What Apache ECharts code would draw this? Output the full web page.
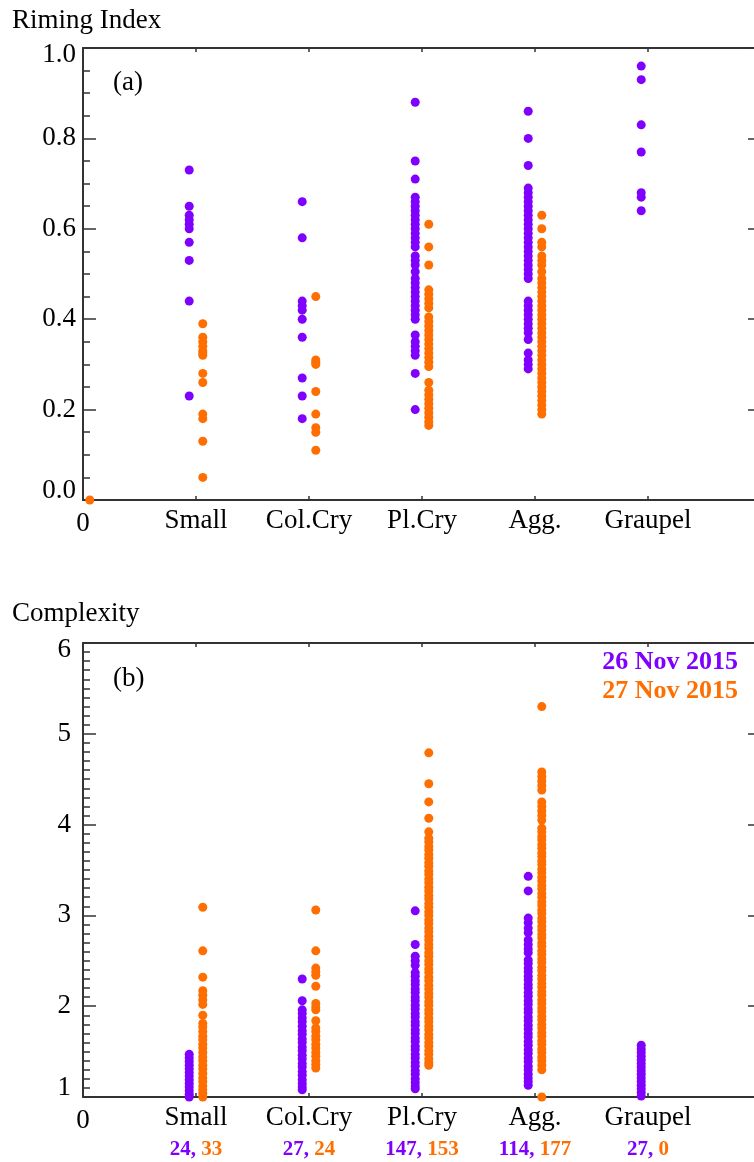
<!DOCTYPE html>
<html>
<head>
<meta charset="utf-8">
<script src="https://cdn.jsdelivr.net/npm/echarts@6/dist/echarts.min.js"></script>
<style>
html,body{margin:0;padding:0;background:#fff;overflow:hidden;}
#c{width:780px;height:1162px;}
</style>
</head>
<body>
<div id="c"></div>
<script>
// ---------- data ----------
const categories = ['Small', 'Col.Cry', 'Pl.Cry', 'Agg.', 'Graupel'];
const countsPurple = [24, 27, 147, 114, 27];
const countsOrange = [33, 24, 153, 177, 0];
const legendLabels = ['26 Nov 2015', '27 Nov 2015'];

// Panel (a) Riming Index, per category (Small, Col.Cry, Pl.Cry, Agg., Graupel)
const rimPurple = [
  [0.73, 0.65, 0.63, 0.62, 0.61, 0.60, 0.57, 0.53, 0.44, 0.23],
  [0.66, 0.58, 0.44, 0.43, 0.42, 0.40, 0.36, 0.27, 0.23, 0.18],
  [0.88, 0.75, 0.71, 0.67, 0.66, 0.65, 0.64, 0.63, 0.62, 0.61, 0.60, 0.59, 0.58, 0.57, 0.56, 0.54, 0.53, 0.52, 0.505, 0.49, 0.48, 0.47, 0.46, 0.45, 0.44, 0.43, 0.42, 0.41, 0.40, 0.365, 0.35, 0.34, 0.33, 0.32, 0.28, 0.20],
  [0.86, 0.80, 0.74, 0.69, 0.68, 0.67, 0.66, 0.65, 0.64, 0.63, 0.62, 0.61, 0.60, 0.59, 0.58, 0.57, 0.56, 0.55, 0.54, 0.53, 0.52, 0.51, 0.50, 0.49, 0.44, 0.43, 0.42, 0.41, 0.40, 0.39, 0.38, 0.37, 0.355, 0.325, 0.31, 0.30, 0.29],
  [0.96, 0.93, 0.83, 0.77, 0.68, 0.67, 0.64]
];
const rimOrange = [
  [0.39, 0.36, 0.35, 0.34, 0.33, 0.325, 0.32, 0.28, 0.26, 0.19, 0.18, 0.13, 0.05],
  [0.45, 0.31, 0.305, 0.30, 0.24, 0.19, 0.16, 0.15, 0.11],
  [0.61, 0.56, 0.52, 0.465, 0.455, 0.445, 0.435, 0.425, 0.405, 0.395, 0.385, 0.375, 0.365, 0.355, 0.345, 0.335, 0.325, 0.315, 0.305, 0.295, 0.26, 0.243, 0.233, 0.223, 0.213, 0.203, 0.193, 0.183, 0.173, 0.165],
  [0.63, 0.60, 0.57, 0.56, 0.54, 0.53, 0.52, 0.505, 0.49, 0.48, 0.47, 0.46, 0.45, 0.44, 0.43, 0.42, 0.41, 0.40, 0.39, 0.38, 0.37, 0.36, 0.35, 0.34, 0.33, 0.32, 0.31, 0.30, 0.29, 0.28, 0.27, 0.26, 0.25, 0.24, 0.23, 0.22, 0.21, 0.20, 0.19],
  []
];
const rimOrangeAtZero = [0.0];

// Panel (b) Complexity
const cpxPurple = [
  [1.47, 1.43, 1.39, 1.35, 1.31, 1.27, 1.23, 1.19, 1.15, 1.11, 1.07, 1.03, 1.00],
  [2.30, 2.06, 1.96, 1.92, 1.87, 1.83, 1.78, 1.73, 1.69, 1.64, 1.60, 1.55, 1.51, 1.46, 1.42, 1.37, 1.33, 1.28, 1.24, 1.19, 1.15, 1.11, 1.08],
  [3.05, 2.68, 2.55, 2.50, 2.45, 2.37, 2.33, 2.28, 2.24, 2.19, 2.15, 2.10, 2.06, 2.01, 1.97, 1.92, 1.88, 1.83, 1.79, 1.74, 1.70, 1.65, 1.61, 1.56, 1.52, 1.47, 1.43, 1.38, 1.34, 1.29, 1.25, 1.20, 1.16, 1.12, 1.09],
  [3.43, 3.27, 2.97, 2.92, 2.86, 2.81, 2.73, 2.68, 2.63, 2.59, 2.51, 2.47, 2.42, 2.38, 2.33, 2.29, 2.24, 2.20, 2.15, 2.11, 2.06, 2.02, 1.97, 1.93, 1.88, 1.84, 1.79, 1.75, 1.70, 1.66, 1.61, 1.57, 1.52, 1.48, 1.43, 1.39, 1.34, 1.30, 1.25, 1.21, 1.17, 1.13],
  [1.57, 1.53, 1.49, 1.45, 1.41, 1.37, 1.33, 1.29, 1.25, 1.21, 1.17, 1.13, 1.09, 1.05, 1.01]
];
const cpxOrange = [
  [3.09, 2.61, 2.32, 2.17, 2.12, 2.07, 2.02, 1.90, 1.81, 1.77, 1.72, 1.67, 1.63, 1.58, 1.54, 1.49, 1.44, 1.40, 1.35, 1.31, 1.26, 1.21, 1.17, 1.12, 1.08, 1.04, 1.00],
  [3.06, 2.61, 2.42, 2.38, 2.34, 2.22, 2.03, 1.99, 1.96, 1.84, 1.76, 1.72, 1.67, 1.63, 1.58, 1.54, 1.49, 1.45, 1.40, 1.36, 1.32],
  [4.79, 4.45, 4.25, 4.07, 3.92, 3.85, 3.81, 3.76, 3.72, 3.67, 3.63, 3.58, 3.54, 3.49, 3.45, 3.40, 3.36, 3.31, 3.27, 3.22, 3.18, 3.13, 3.09, 3.04, 3.00, 2.95, 2.91, 2.86, 2.82, 2.77, 2.73, 2.68, 2.64, 2.59, 2.55, 2.50, 2.46, 2.41, 2.37, 2.32, 2.28, 2.23, 2.19, 2.14, 2.10, 2.05, 2.01, 1.96, 1.92, 1.87, 1.83, 1.78, 1.74, 1.69, 1.65, 1.60, 1.56, 1.51, 1.47, 1.42, 1.38, 1.35],
  [5.30, 4.58, 4.53, 4.48, 4.43, 4.38, 4.25, 4.20, 4.15, 4.10, 4.05, 3.96, 3.92, 3.87, 3.83, 3.78, 3.74, 3.69, 3.65, 3.60, 3.56, 3.51, 3.47, 3.42, 3.38, 3.33, 3.29, 3.24, 3.20, 3.15, 3.11, 3.06, 3.02, 2.97, 2.93, 2.88, 2.84, 2.79, 2.75, 2.70, 2.66, 2.61, 2.57, 2.52, 2.48, 2.43, 2.39, 2.34, 2.30, 2.25, 2.21, 2.16, 2.12, 2.07, 2.03, 1.98, 1.94, 1.89, 1.85, 1.80, 1.76, 1.71, 1.67, 1.62, 1.58, 1.53, 1.49, 1.44, 1.40, 1.35, 1.30, 1.00],
  []
];

// ---------- style ----------
const PURPLE = '#7f00ff';
const ORANGE = '#ff6e00';
const FONT = 'Liberation Serif';
const FS = 27;
const AXC = '#333333';
const OFFSET = 0.06;

function toPoints(lists, off) {
  const pts = [];
  lists.forEach((vals, i) => vals.forEach(v => pts.push([i + 1 + off, v])));
  return pts;
}

const lineStyle = { color: AXC, width: 2 };
const tickStyle = { color: AXC, width: 1.5 };

function xAxes(gi, withCounts) {
  const rich = {
    c: { fontFamily: FONT, fontSize: FS, color: '#000', lineHeight: 30 },
    z: { fontFamily: FONT, fontSize: FS, color: '#000', lineHeight: 30, padding: [5, 0, 0, 0] },
    p: { fontFamily: FONT, fontSize: 21, fontWeight: 'bold', color: PURPLE, lineHeight: 34 },
    o: { fontFamily: FONT, fontSize: 21, fontWeight: 'bold', color: ORANGE, lineHeight: 34 }
  };
  return [
    {
      gridIndex: gi, type: 'value', min: 0, max: 6, position: 'bottom',
      axisLine: { show: true, onZero: false, lineStyle },
      axisTick: { show: true, inside: true, length: 4, customValues: [1, 2, 3, 4, 5], lineStyle: tickStyle },
      axisLabel: {
        show: true, margin: 6, customValues: [0, 1, 2, 3, 4, 5], rich,
        formatter: v => {
          if (v === 0) return '{z|0}';
          const name = '{c|' + categories[v - 1] + '}';
          if (!withCounts) return name;
          return name + '\n{p|' + countsPurple[v - 1] + ',}{o| ' + countsOrange[v - 1] + '}';
        }
      },
      splitLine: { show: false }
    },
    {
      gridIndex: gi, type: 'value', min: 0, max: 6, position: 'top',
      axisLine: { show: true, onZero: false, lineStyle },
      axisTick: { show: true, inside: true, length: 4, customValues: [1, 2, 3, 4, 5], lineStyle: tickStyle },
      axisLabel: { show: false },
      splitLine: { show: false }
    }
  ];
}

function yAxes(gi, min, max, interval, minorSplit, fmt, margin) {
  const rich = {
    n: { fontFamily: FONT, fontSize: FS, color: '#000' },
    lo: { fontFamily: FONT, fontSize: FS, color: '#000', padding: [0, 0, 19, 0] },
    hi: { fontFamily: FONT, fontSize: FS, color: '#000', padding: [13, 0, 0, 0] }
  };
  const common = {
    gridIndex: gi, type: 'value', min, max, interval,
    axisLine: { show: true, onZero: false, lineStyle },
    axisTick: { show: true, inside: true, length: 13, lineStyle: tickStyle },
    minorTick: { show: true, splitNumber: minorSplit, length: 7, lineStyle: tickStyle },
    splitLine: { show: false },
    minorSplitLine: { show: false }
  };
  return [
    Object.assign({}, common, {
      position: 'left',
      axisLabel: {
        show: true, margin, rich,
        formatter: v => {
          const s = fmt(v);
          if (Math.abs(v - min) < 1e-9) return '{lo|' + s + '}';
          if (Math.abs(v - max) < 1e-9) return '{hi|' + s + '}';
          return '{n|' + s + '}';
        }
      }
    }),
    Object.assign({}, common, { position: 'right', axisLabel: { show: false } })
  ];
}

const scatterBase = { type: 'scatter', symbol: 'circle', symbolSize: 9, clip: false, animation: false };
const titleFont = FS + 'px "Liberation Serif"';

const option = {
  animation: false,
  backgroundColor: '#fff',
  grid: [
    { left: 83, top: 48, width: 678, height: 452 },
    { left: 83, top: 643, width: 678, height: 454 }
  ],
  xAxis: [...xAxes(0, false), ...xAxes(1, true)],
  yAxis: [
    ...yAxes(0, 0, 1, 0.2, 4, v => v.toFixed(1), 7),
    ...yAxes(1, 1, 6, 1, 10, v => String(Math.round(v)), 12)
  ],
  series: [
    Object.assign({}, scatterBase, { name: legendLabels[0], xAxisIndex: 0, yAxisIndex: 0, itemStyle: { color: PURPLE, opacity: 1 }, data: toPoints(rimPurple, -OFFSET) }),
    Object.assign({}, scatterBase, { name: legendLabels[1], xAxisIndex: 0, yAxisIndex: 0, itemStyle: { color: ORANGE, opacity: 1 },
      data: toPoints(rimOrange, OFFSET).concat(rimOrangeAtZero.map(v => [0 + OFFSET, v])) }),
    Object.assign({}, scatterBase, { name: legendLabels[0], xAxisIndex: 2, yAxisIndex: 2, itemStyle: { color: PURPLE, opacity: 1 }, data: toPoints(cpxPurple, -OFFSET) }),
    Object.assign({}, scatterBase, { name: legendLabels[1], xAxisIndex: 2, yAxisIndex: 2, itemStyle: { color: ORANGE, opacity: 1 }, data: toPoints(cpxOrange, OFFSET) })
  ],
  graphic: [
    { type: 'text', x: 12, y: 21, style: { text: 'Riming Index', font: titleFont, fill: '#000', verticalAlign: 'middle', textVerticalAlign: 'middle' } },
    { type: 'text', x: 12, y: 614, style: { text: 'Complexity', font: titleFont, fill: '#000', verticalAlign: 'middle', textVerticalAlign: 'middle' } },
    { type: 'text', x: 113, y: 83, style: { text: '(a)', font: titleFont, fill: '#000', verticalAlign: 'middle', textVerticalAlign: 'middle' } },
    { type: 'text', x: 113, y: 679, style: { text: '(b)', font: titleFont, fill: '#000', verticalAlign: 'middle', textVerticalAlign: 'middle' } },
    { type: 'text', x: 738, y: 662, style: { text: legendLabels[0], font: 'bold 26px "Liberation Serif"', fill: PURPLE, align: 'right', textAlign: 'right', verticalAlign: 'middle', textVerticalAlign: 'middle' } },
    { type: 'text', x: 738, y: 691, style: { text: legendLabels[1], font: 'bold 26px "Liberation Serif"', fill: ORANGE, align: 'right', textAlign: 'right', verticalAlign: 'middle', textVerticalAlign: 'middle' } }
  ]
};

const chart = echarts.init(document.getElementById('c'), null, { renderer: 'canvas' });
chart.setOption(option);
</script>
</body>
</html>
